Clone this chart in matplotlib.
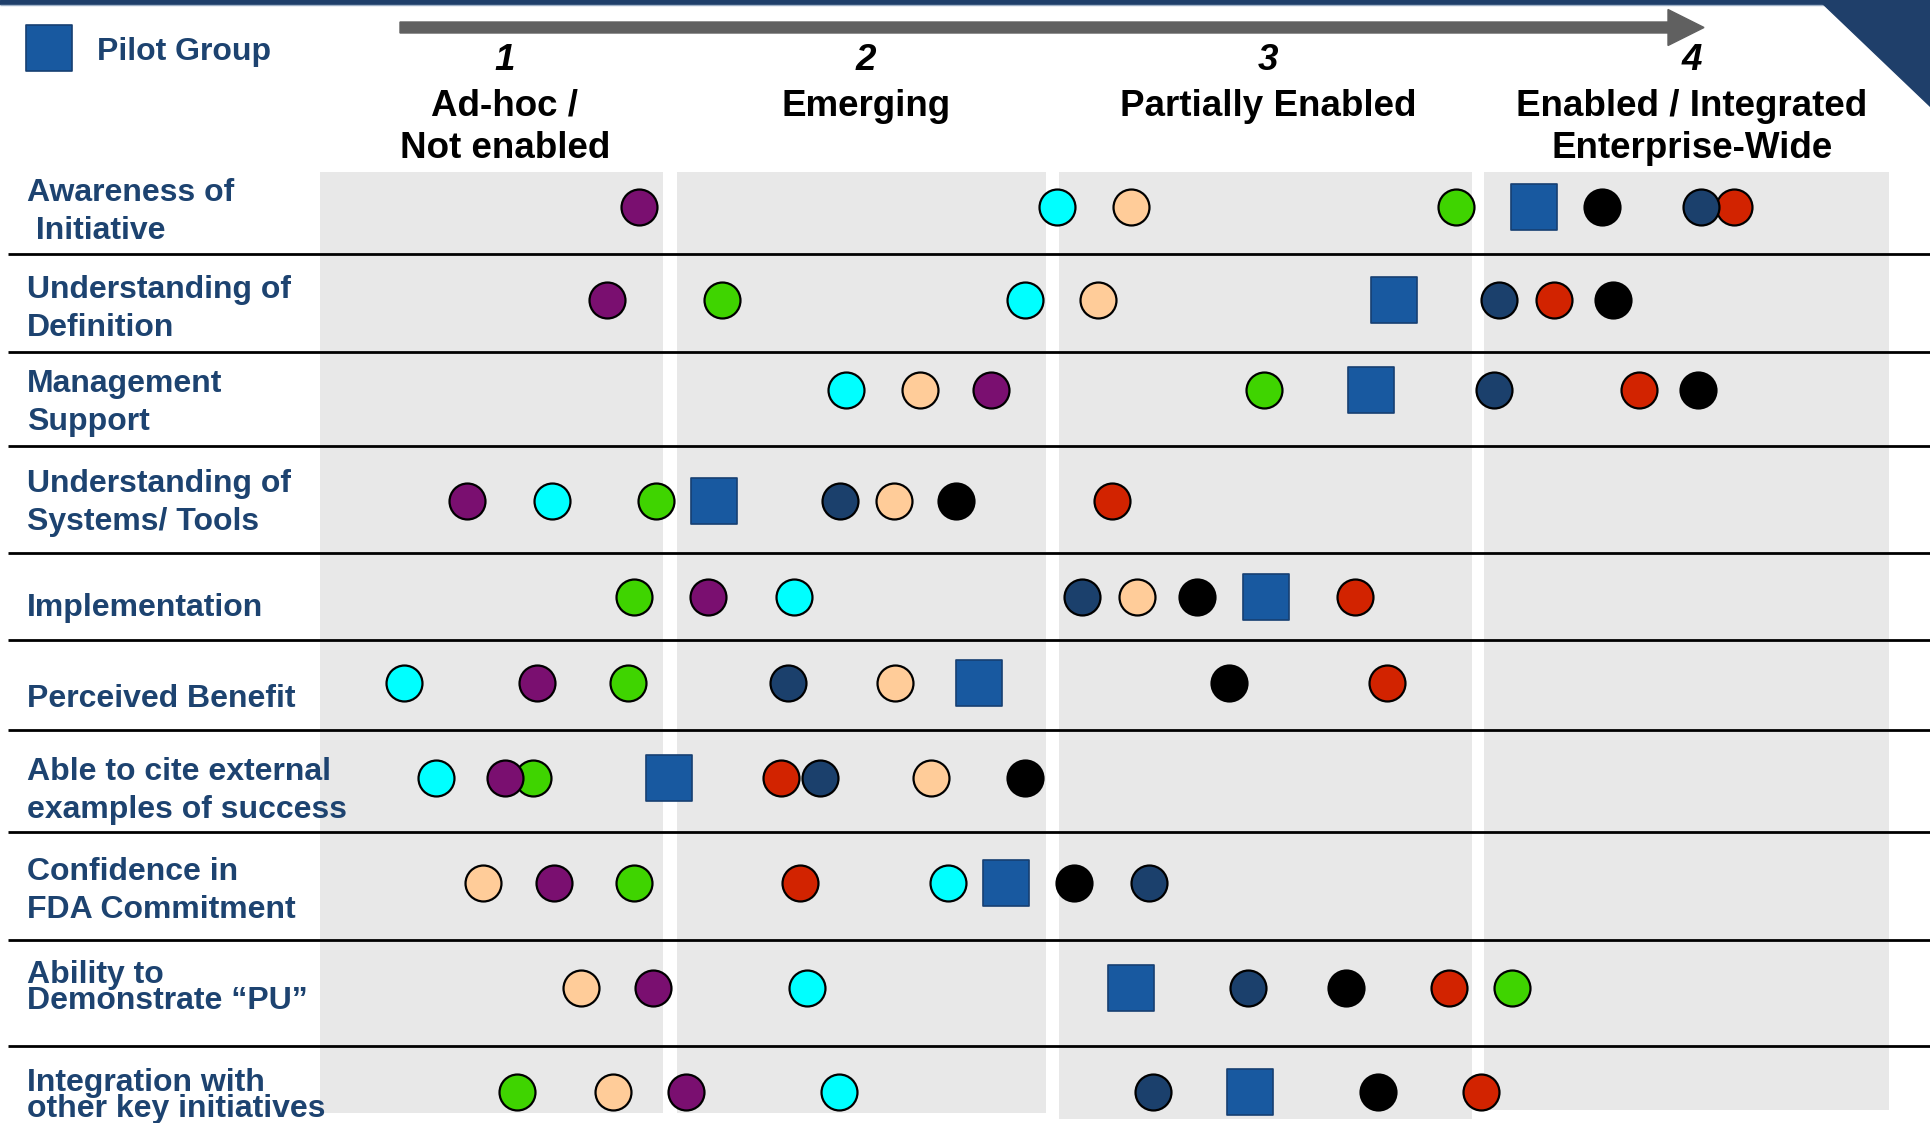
import matplotlib
matplotlib.use("Agg")
import matplotlib.pyplot as plt
from matplotlib.patches import Rectangle, Polygon

plt.rcParams['font.family'] = ['Liberation Sans', 'DejaVu Sans']

# ---- data (x = position along the maturity scale, in reference px) ----
rows = ["Awareness of\n Initiative",
        "Understanding of\nDefinition",
        "Management\nSupport",
        "Understanding of\nSystems/ Tools",
        "Implementation",
        "Perceived Benefit",
        "Able to cite external\nexamples of success",
        "Confidence in\nFDA Commitment",
        "Ability to\nDemonstrate \u201cPU\u201d",
        "Integration with\nother key initiatives"]

stages = ["Ad-hoc /\nNot enabled", "Emerging", "Partially Enabled",
          "Enabled / Integrated\nEnterprise-Wide"]
stage_nums = ["1", "2", "3", "4"]

green = [1456, 722, 1264, 656, 634, 628, 533, 634, 1512, 517]
red = [1734, 1554, 1639, 1112, 1355, 1387, 781, 800, 1449, 1481]
navy = [1701, 1499, 1494, 840, 1082, 788, 820, 1149, 1248, 1153]
purple = [639, 607, 991, 467, 708, 537, 505, 554, 653, 686]
cyan = [1057, 1025, 846, 552, 794, 404, 436, 948, 807, 839]
peach = [1131, 1098, 920, 894, 1137, 895, 931, 483, 581, 613]
black = [1602, 1613, 1698, 956, 1197, 1229, 1025, 1074, 1346, 1378]
pilot = [1534, 1394, 1371, 714, 1266, 979, 669, 1006, 1131, 1250]

# ---- layout ----
W, H = 1931, 1123
row_y = [207, 300, 390, 501, 597, 683, 778, 883, 988, 1092]
sep_y = [254, 352, 446, 553, 640, 730, 832, 940, 1046]
band_x = [(320, 663), (677, 1046), (1059, 1472), (1484, 1889)]
band_bottom = [1113, 1113, 1119, 1110]
band_top = 172
stage_x = [505, 866, 1268, 1692]

label_col = '#1d4370'
top_col = '#1f3f6a'

fig = plt.figure(figsize=(W / 100, H / 100), dpi=100)
ax = fig.add_axes([0, 0, 1, 1])
ax.set_xlim(0, W)
ax.set_ylim(H, 0)
ax.axis('off')

# header decoration
ax.add_patch(Rectangle((0, 0), W, 4, color=top_col, zorder=1))
ax.hlines(5, 0, W, color='#9fb2c8', lw=1, zorder=1)
ax.add_patch(Polygon([(1819, 0), (W, 0), (W, 107)], closed=True,
                     color=top_col, zorder=1))
ax.arrow(400, 27.5, 1304, 0, width=11, head_width=36, head_length=36,
         length_includes_head=True, color='#606060', zorder=2)

# stage columns
for (x0, x1), yb in zip(band_x, band_bottom):
    ax.add_patch(Rectangle((x0, band_top), x1 - x0, yb - band_top,
                           color='#e8e8e8', lw=0, zorder=0))

for x, num, name in zip(stage_x, stage_nums, stages):
    ax.text(x, 61, num, ha='center', va='center', fontsize=26.5,
            fontweight='bold', fontstyle='italic')
    ax.text(x, 89, name, ha='center', va='top', fontsize=26.5,
            fontweight='bold', linespacing=1.25)

# row separators
ax.hlines(sep_y, 8, W, color='black', lw=2, zorder=1)

# row labels
label_y = [212, 309, 403, 503, 608, 699, 791, 891, 988, 1096]
spacing = [1.36] * 8 + [0.86, 0.86]
for lab, y, ls in zip(rows, label_y, spacing):
    ax.text(27, y, lab, ha='left', va='center', fontsize=23,
            fontweight='bold', color=label_col, linespacing=ls)

# markers
series = [(green, '#3fd400'), (red, '#d22300'), (navy, '#1b406c'),
          (purple, '#7a0f70'), (cyan, '#00ffff'), (peach, '#ffcc99'),
          (black, '#000000')]
for xs, col in series:
    ax.scatter(xs, row_y, s=670, marker='o', facecolor=col,
               edgecolor='black', linewidth=1.6, zorder=3)
sq = ax.scatter(pilot, row_y, s=1050, marker='s', facecolor='#1859a0',
                edgecolor='#163f72', linewidth=1.2, zorder=3,
                label='Pilot Group')

leg = ax.legend(handles=[sq], loc='upper left', bbox_to_anchor=(-0.006, 0.993),
                frameon=False, fontsize=23, handletextpad=0.5,
                borderpad=0.6, borderaxespad=0.3, scatteryoffsets=[0.5])
for t in leg.get_texts():
    t.set_color(label_col)
    t.set_fontweight('bold')

fig.savefig('out.png', dpi=100)
